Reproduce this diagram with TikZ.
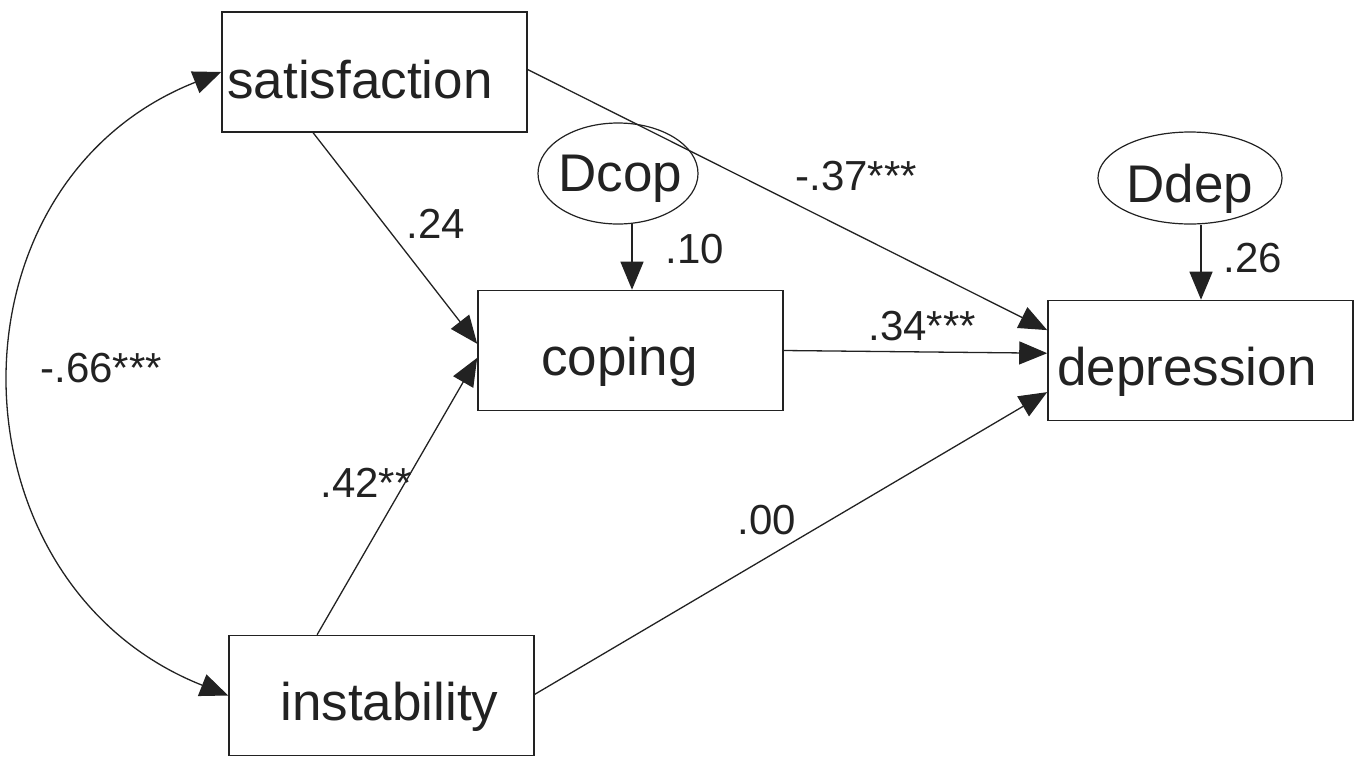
\documentclass[tikz,border=0pt]{standalone}
\usepackage{fontspec}
\setmainfont{Liberation Sans}
\usetikzlibrary{arrows.meta,calc,shapes.geometric}
\definecolor{ink}{HTML}{222222}
\begin{document}
\begin{tikzpicture}[x=0.5pt,y=-0.5pt,
  varbox/.style={draw=ink, line width=0.8pt, rectangle,
    minimum width=152.5pt, minimum height=60pt, inner sep=0pt},
  errvar/.style={draw=ink, line width=0.6pt, ellipse, inner sep=0pt},
  vartext/.style={anchor=base west, inner sep=0pt, text=ink,
    font=\fontsize{26.5pt}{30pt}\selectfont},
  coef/.style={anchor=base west, inner sep=0pt, text=ink,
    font=\fontsize{21pt}{25pt}\selectfont},
  regpath/.style={draw=ink, line width=0.65pt, -{Triangle[length=14pt,width=11.5pt]}},
  covpath/.style={draw=ink, line width=0.65pt,
    {Triangle[length=14pt,width=11.5pt]}-{Triangle[length=14pt,width=11.5pt]}}
]
\useasboundingbox (0,0) rectangle (1358,756);

% observed variables
\node[varbox] (sat) at (374.5,72) {};
\node[varbox] (cop) at (630.5,350.5) {};
\node[varbox] (dep) at (1200.5,360.5) {};
\node[varbox] (ins) at (381.5,695.5) {};

% disturbance terms
\node[errvar, minimum width=80pt, minimum height=50.5pt] (dcop) at (618,173.5) {};
\node[errvar, minimum width=92pt, minimum height=46pt] (ddep) at (1190,178) {};

% variable names
\node[vartext] (sat-t) at (227,98) {satisfaction};
\node[vartext] (cop-t) at (541,375) {coping};
\node[vartext] (dep-t) at (1057,385) {depression};
\node[vartext] (ins-t) at (280,720) {instability};
\node[vartext] (dcop-t) at (558,191) {Dcop};
\node[vartext] (ddep-t) at (1126,202) {Ddep};

% regression paths
\draw[regpath] ($(sat.south west)!0.30!(sat.south east)$)
  -- ($(cop.north west)!0.445!(cop.south west)$);
\draw[regpath] ($(ins.north west)!0.29!(ins.north east)$)
  -- ($(cop.north west)!0.56!(cop.south west)$);
\draw[regpath] ($(sat.north east)!0.48!(sat.south east)$)
  -- ($(dep.north west)!0.25!(dep.south west)$);
\draw[regpath] ($(cop.north east)!0.50!(cop.south east)$)
  -- ($(dep.north west)!0.44!(dep.south west)$);
\draw[regpath] ($(ins.north east)!0.49!(ins.south east)$)
  -- ($(dep.north west)!0.76!(dep.south west)$);

% disturbance paths
\coordinate (dcop-o) at ($(dcop.south)+(14,-2)$);
\draw[regpath] (dcop-o) -- (dcop-o |- cop.north);
\coordinate (ddep-o) at ($(ddep.south)+(11,0)$);
\draw[regpath] (ddep-o) -- (ddep-o |- dep.north);

% covariance between the exogenous variables
\draw[covpath] (sat.west) .. controls ($(sat.west)+(-283,112)$)
  and ($(ins.west)+(-283,-112)$) .. (ins.west);

% coefficients
\node[coef] (c-sc) at (406,238) {.24};
\node[coef] (c-dc) at (665,263) {.10};
\node[coef] (c-sd) at (795,190) {-.37***};
\node[coef] (c-dd) at (1223,272) {.26};
\node[coef] (c-cd) at (868,340) {.34***};
\node[coef] (c-si) at (40,382) {-.66***};
\node[coef] (c-ic) at (320,497) {.42**};
\node[coef] (c-id) at (737,534) {.00};
\end{tikzpicture}
\end{document}
